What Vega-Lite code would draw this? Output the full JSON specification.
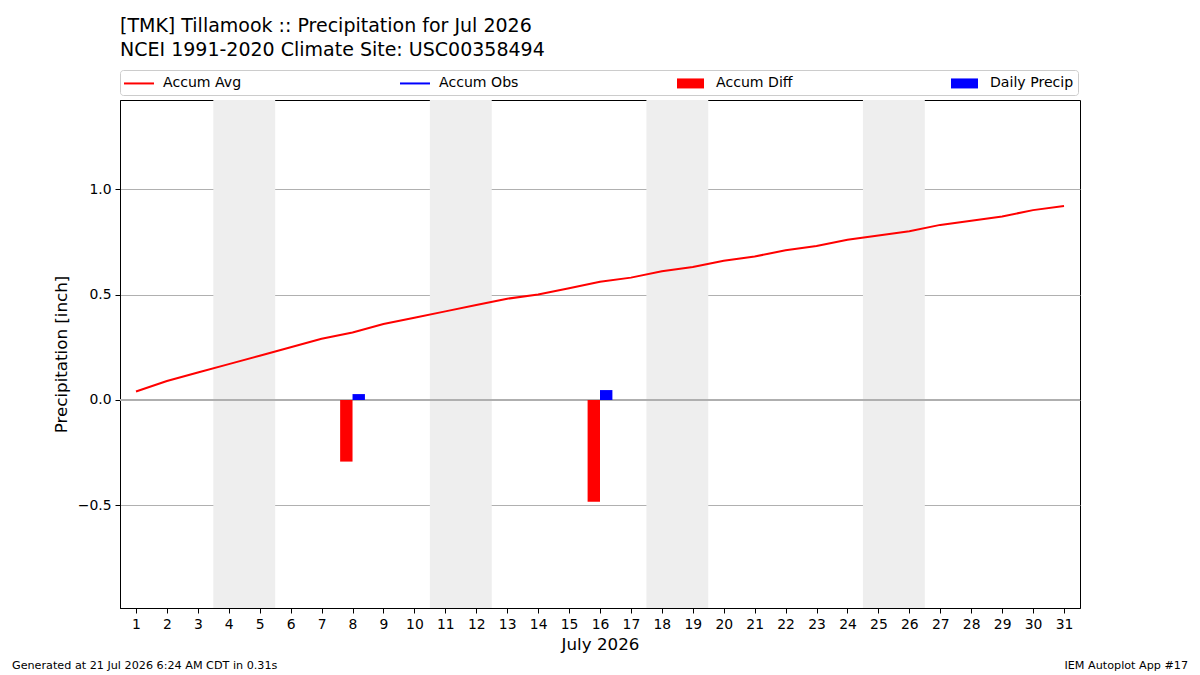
{
  "$schema": "https://vega.github.io/schema/vega-lite/v6.json",
  "width": 960,
  "height": 508,
  "autosize": {"type": "none"},
  "padding": {"left": 120, "top": 100, "right": 120, "bottom": 67},
  "background": "white",
  "config": {
    "font": "DejaVu Sans",
    "view": {"stroke": "black", "strokeWidth": 1},
    "axis": {"labelFont": "DejaVu Sans", "titleFont": "DejaVu Sans", "labelColor": "black", "titleColor": "black", "tickColor": "black", "domainColor": "black", "labelFontSize": 13.9, "titleFontSize": 16.7, "titleFontWeight": "normal", "tickSize": 5, "labelPadding": 4, "labelOverlap": false}
  },
  "title": {
    "text": ["[TMK] Tillamook :: Precipitation for Jul 2026", "NCEI 1991-2020 Climate Site: USC00358494"],
    "anchor": "start",
    "frame": "group",
    "font": "DejaVu Sans",
    "fontSize": 19,
    "fontWeight": "normal",
    "color": "black",
    "lineHeight": 24,
    "offset": 10
  },
  "datasets": {
    "days": [
      {"day": 1, "avg": 0.04, "diff": null, "daily": null},
      {"day": 2, "avg": 0.09, "diff": null, "daily": null},
      {"day": 3, "avg": 0.13, "diff": null, "daily": null},
      {"day": 4, "avg": 0.17, "diff": null, "daily": null},
      {"day": 5, "avg": 0.21, "diff": null, "daily": null},
      {"day": 6, "avg": 0.25, "diff": null, "daily": null},
      {"day": 7, "avg": 0.29, "diff": null, "daily": null},
      {"day": 8, "avg": 0.32, "diff": -0.292, "daily": 0.028},
      {"day": 9, "avg": 0.36, "diff": null, "daily": null},
      {"day": 10, "avg": 0.39, "diff": null, "daily": null},
      {"day": 11, "avg": 0.42, "diff": null, "daily": null},
      {"day": 12, "avg": 0.45, "diff": null, "daily": null},
      {"day": 13, "avg": 0.48, "diff": null, "daily": null},
      {"day": 14, "avg": 0.50, "diff": null, "daily": null},
      {"day": 15, "avg": 0.53, "diff": null, "daily": null},
      {"day": 16, "avg": 0.56, "diff": -0.482, "daily": 0.047},
      {"day": 17, "avg": 0.58, "diff": null, "daily": null},
      {"day": 18, "avg": 0.61, "diff": null, "daily": null},
      {"day": 19, "avg": 0.63, "diff": null, "daily": null},
      {"day": 20, "avg": 0.66, "diff": null, "daily": null},
      {"day": 21, "avg": 0.68, "diff": null, "daily": null},
      {"day": 22, "avg": 0.71, "diff": null, "daily": null},
      {"day": 23, "avg": 0.73, "diff": null, "daily": null},
      {"day": 24, "avg": 0.76, "diff": null, "daily": null},
      {"day": 25, "avg": 0.78, "diff": null, "daily": null},
      {"day": 26, "avg": 0.80, "diff": null, "daily": null},
      {"day": 27, "avg": 0.83, "diff": null, "daily": null},
      {"day": 28, "avg": 0.85, "diff": null, "daily": null},
      {"day": 29, "avg": 0.87, "diff": null, "daily": null},
      {"day": 30, "avg": 0.90, "diff": null, "daily": null},
      {"day": 31, "avg": 0.92, "diff": null, "daily": null}
    ],
    "weekends": [
      {"start": 3.5, "end": 5.5},
      {"start": 10.5, "end": 12.5},
      {"start": 17.5, "end": 19.5},
      {"start": 24.5, "end": 26.5}
    ]
  },
  "layer": [
    {
      "data": {"name": "weekends"},
      "mark": {"type": "rect", "color": "#eeeeee"},
      "encoding": {
        "x": {"field": "start", "type": "quantitative", "scale": {"domain": [0.483, 31.517], "nice": false, "zero": false, "padding": 0},
          "axis": {"title": "July 2026", "tickCount": 31, "tickMinStep": 1, "format": "d", "grid": false, "titlePadding": 6, "labelFlush": false, "labelOverlap": false, "labelBound": false}},
        "x2": {"field": "end"}
      }
    },
    {
      "data": {"name": "days"},
      "mark": {"type": "rule", "color": "#b0b0b0", "strokeWidth": 1},
      "encoding": {
        "y": {"datum": 0, "type": "quantitative"}
      }
    },
    {
      "data": {"name": "days"},
      "transform": [{"filter": "datum.diff != null"}],
      "mark": {"type": "bar", "width": 12.4, "xOffset": -6.2},
      "encoding": {
        "x": {"field": "day", "type": "quantitative"},
        "y": {"field": "diff", "type": "quantitative"},
        "color": {"datum": "Accum Diff"}
      }
    },
    {
      "data": {"name": "days"},
      "transform": [{"filter": "datum.daily != null"}],
      "mark": {"type": "bar", "width": 12.4, "xOffset": 6.2},
      "encoding": {
        "x": {"field": "day", "type": "quantitative"},
        "y": {"field": "daily", "type": "quantitative"},
        "color": {"datum": "Daily Precip"}
      }
    },
    {
      "data": {"name": "days"},
      "mark": {"type": "line", "strokeWidth": 2},
      "encoding": {
        "x": {"field": "day", "type": "quantitative"},
        "y": {"field": "avg", "type": "quantitative",
          "scale": {"domain": [-0.986, 1.422], "nice": false, "zero": false},
          "axis": {"title": "Precipitation [inch]", "values": [-0.5, 0, 0.5, 1.0], "format": ".1f", "grid": true, "gridColor": "#b0b0b0", "gridWidth": 1, "titlePadding": 7}},
        "color": {"datum": "Accum Avg", "type": "nominal",
          "scale": {"domain": ["Accum Avg", "Accum Obs", "Accum Diff", "Daily Precip"], "range": ["red", "blue", "red", "blue"]},
          "legend": {
            "title": null,
            "orient": "top",
            "direction": "horizontal",
            "columns": 4,
            "columnPadding": 158,
            "symbolSize": 324,
            "labelFont": "DejaVu Sans",
            "labelFontSize": 14.1,
            "labelColor": "black",
            "labelOffset": 21,
            "labelLimit": 400,
            "padding": 4,
            "strokeColor": "#cccccc",
            "cornerRadius": 3,
            "offset": 5,
            "encode": {
              "symbols": {
                "update": {
                  "shape": {"signal": "datum.value === 'Accum Avg' || datum.value === 'Accum Obs' ? 'M-1,-0.111H2.333V0.111H-1Z' : 'M-1,-0.556H2V0.556H-1Z'"},
                  "fill": {"scale": "color", "field": "value"},
                  "stroke": {"value": "transparent"},
                  "strokeWidth": {"value": 0},
                  "opacity": {"value": 1}
                }
              }
            }
          }
        }
      }
    },
    {
      "data": {"values": [{}]},
      "mark": {"type": "text", "align": "left", "baseline": "alphabetic", "fontSize": 11.2, "font": "DejaVu Sans", "color": "black"},
      "encoding": {
        "x": {"datum": -3.009, "type": "quantitative"},
        "y": {"datum": -1.275, "type": "quantitative"},
        "text": {"value": "Generated at 21 Jul 2026 6:24 AM CDT in 0.31s"}
      }
    },
    {
      "data": {"values": [{}]},
      "mark": {"type": "text", "align": "right", "baseline": "alphabetic", "fontSize": 11.2, "font": "DejaVu Sans", "color": "black"},
      "encoding": {
        "x": {"datum": 35.01, "type": "quantitative"},
        "y": {"datum": -1.275, "type": "quantitative"},
        "text": {"value": "IEM Autoplot App #17"}
      }
    }
  ]
}
